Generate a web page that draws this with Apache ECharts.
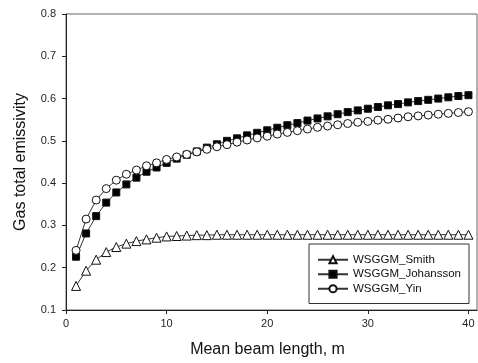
<!DOCTYPE html>
<html>
<head>
<meta charset="utf-8">
<script src="https://cdn.jsdelivr.net/npm/echarts@6/dist/echarts.min.js"></script>
<style>
  html, body { margin: 0; padding: 0; background: #fff; }
  #chart { width: 478px; height: 363px; }
</style>
</head>
<body>
<div id="chart"></div>
<script>
// mean beam length, m
const beamLength = [
  1, 2, 3, 4, 5, 6, 7, 8, 9, 10, 11, 12, 13, 14, 15, 16, 17, 18, 19, 20,
  21, 22, 23, 24, 25, 26, 27, 28, 29, 30, 31, 32, 33, 34, 35, 36, 37, 38, 39, 40
];
const smith = [
  0.157, 0.193, 0.219, 0.237, 0.249, 0.257, 0.263, 0.267, 0.271, 0.274,
  0.275, 0.276, 0.277, 0.277, 0.278, 0.278, 0.278, 0.278, 0.278, 0.278,
  0.278, 0.278, 0.278, 0.278, 0.278, 0.278, 0.278, 0.278, 0.278, 0.278,
  0.278, 0.278, 0.278, 0.278, 0.278, 0.278, 0.278, 0.278, 0.278, 0.278
];
const johansson = [
  0.226, 0.281, 0.322, 0.354, 0.378, 0.397, 0.413, 0.427, 0.437, 0.448,
  0.458, 0.467, 0.475, 0.484, 0.492, 0.500, 0.506, 0.513, 0.519, 0.525,
  0.531, 0.537, 0.542, 0.548, 0.553, 0.558, 0.563, 0.568, 0.572, 0.576,
  0.580, 0.584, 0.587, 0.591, 0.594, 0.597, 0.600, 0.603, 0.606, 0.608
];
const yin = [
  0.241, 0.315, 0.360, 0.387, 0.407, 0.421, 0.431, 0.441, 0.448, 0.456,
  0.462, 0.468, 0.474, 0.480, 0.486, 0.491, 0.497, 0.502, 0.507, 0.511,
  0.516, 0.520, 0.524, 0.528, 0.532, 0.535, 0.538, 0.541, 0.544, 0.546,
  0.549, 0.551, 0.554, 0.557, 0.559, 0.561, 0.563, 0.565, 0.567, 0.569
];
const xTicks = [0, 10, 20, 30, 40];

const pairs = (ys) => beamLength.map((x, i) => [x, ys[i]]);
const FONT = "Liberation Sans, Arial, sans-serif";

const makeSeries = (name, data, symbol, size, fill) => ({
  name,
  type: "line",
  data: pairs(data),
  symbol,
  symbolSize: size,
  showAllSymbol: true,
  lineStyle: { color: "#333", width: 1 },
  itemStyle: { color: fill, borderColor: "#111", borderWidth: 1 },
  emphasis: { disabled: true },
  z: 3
});

const chart = echarts.init(document.getElementById("chart"));
chart.setOption({
  animation: false,
  backgroundColor: "#fff",
  textStyle: { fontFamily: FONT },
  grid: {
    left: 66, right: 1, top: 14, bottom: 53,
    show: true, borderColor: "#666", borderWidth: 1
  },
  legend: {
    orient: "vertical",
    left: 309, top: 244,
    padding: [9, 8, 8, 8],
    itemGap: 1,
    itemWidth: 30,
    itemHeight: 9,
    borderColor: "#333",
    borderWidth: 1,
    backgroundColor: "#fff",
    textStyle: { fontSize: 11.5, color: "#111", fontFamily: FONT, lineHeight: 13.5 },
    data: ["WSGGM_Smith", "WSGGM_Johansson", "WSGGM_Yin"]
  },
  xAxis: {
    type: "value",
    min: 0,
    max: 40.85,
    name: "Mean beam length, m",
    nameLocation: "middle",
    nameGap: 32,
    nameTextStyle: { fontSize: 16, color: "#111", padding: [0, 8, 0, 0] },
    axisLine: { lineStyle: { color: "#222", width: 1 } },
    axisTick: { customValues: xTicks, length: 4, lineStyle: { color: "#222" } },
    axisLabel: { customValues: xTicks, fontSize: 11, color: "#223", margin: 8 },
    splitLine: { show: false }
  },
  yAxis: {
    type: "value",
    min: 0.1,
    max: 0.8,
    interval: 0.1,
    name: "Gas total emissivity",
    nameLocation: "middle",
    nameGap: 37,
    nameTextStyle: { fontSize: 16, color: "#111" },
    axisLine: { show: true, lineStyle: { color: "#222", width: 1 } },
    axisTick: { show: true, length: 4, lineStyle: { color: "#222" } },
    axisLabel: {
      fontSize: 11, color: "#223", margin: 10,
      formatter: (v) => v.toFixed(1)
    },
    splitLine: { show: false }
  },
  series: [
    makeSeries("WSGGM_Smith", smith, "triangle", 9, "#fff"),
    makeSeries("WSGGM_Johansson", johansson, "rect", 7, "#000"),
    makeSeries("WSGGM_Yin", yin, "circle", 8, "#fff")
  ]
});
</script>
</body>
</html>
